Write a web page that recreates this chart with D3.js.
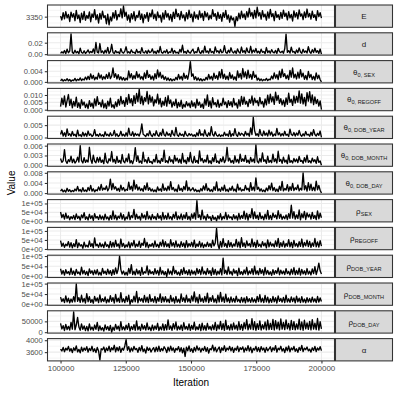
<!DOCTYPE html>
<html>
<head>
<meta charset="utf-8">
<script src="https://cdn.jsdelivr.net/npm/d3@7"></script>
<style>
  body { margin: 0; background: #fff; }
  svg { display: block; font-family: "Liberation Sans", Arial, sans-serif; }
</style>
</head>
<body>
<div id="chart"></div>
<script>
// MCMC trace plot, one row per parameter, free y scales (facet_grid look)

const iterFirst = 100000;
const iterLast = 200000;
const xTicks = [100000, 125000, 150000, 175000, 200000];
const xTickLabels = ['100000', '125000', '150000', '175000', '200000'];

const traceE = [
  3352,3337,3366,3341,3370,3345,3359,3331,3368,3348,
  3362,3334,3375,3342,3357,3327,3364,3339,3371,3336,
  3355,3343,3369,3330,3361,3347,3378,3338,3358,3325,
  3363,3340,3372,3346,3354,3322,3360,3318,3349,3333,
  3366,3344,3374,3337,3359,3350,3381,3345,3392,3351,
  3368,3336,3357,3328,3362,3341,3370,3334,3355,3347,
  3373,3339,3361,3326,3358,3344,3367,3332,3364,3349,
  3377,3342,3360,3335,3369,3346,3356,3329,3365,3340,
  3374,3348,3363,3337,3359,3331,3368,3343,3380,3350,
  3362,3338,3371,3345,3357,3333,3366,3341,3376,3347,
  3360,3330,3369,3344,3358,3339,3373,3346,3363,3335,
  3371,3349,3365,3338,3356,3342,3378,3351,3362,3336,
  3368,3343,3359,3332,3366,3347,3375,3340,3357,3328,
  3353,3337,3345,3312,3350,3334,3364,3341,3372,3346,
  3361,3339,3370,3348,3383,3352,3367,3342,3375,3345,
  3387,3353,3366,3340,3374,3349,3360,3336,3369,3344,
  3379,3350,3362,3334,3371,3347,3358,3339,3367,3343,
  3376,3351,3364,3337,3370,3345,3359,3333,3373,3348,
  3366,3341,3377,3352,3361,3338,3369,3346,3380,3349,
  3363,3340,3372,3347,3358,3335,3374,3350,3366,3344
];
const traceD = [
  0.0012,0.0041,0.0018,0.0063,0.0009,0.0087,0.0025,0.0052,0.0355,0.0031,
  0.0014,0.0069,0.0022,0.0045,0.0008,0.0105,0.0029,0.0016,0.0058,0.0011,
  0.0037,0.0074,0.0019,0.0048,0.0026,0.0092,0.0013,0.0203,0.0034,0.0021,
  0.0185,0.0027,0.0056,0.0010,0.0068,0.0023,0.0117,0.0015,0.0044,0.0172,
  0.0030,0.0012,0.0061,0.0024,0.0039,0.0009,0.0095,0.0033,0.0018,0.0052,
  0.0128,0.0021,0.0043,0.0014,0.0076,0.0028,0.0035,0.0011,0.0083,0.0025,
  0.0047,0.0016,0.0114,0.0031,0.0020,0.0059,0.0013,0.0071,0.0027,0.0038,
  0.0092,0.0019,0.0049,0.0010,0.0066,0.0024,0.0133,0.0032,0.0017,0.0054,
  0.0026,0.0078,0.0012,0.0041,0.0029,0.0102,0.0015,0.0063,0.0021,0.0036,
  0.0011,0.0084,0.0034,0.0155,0.0023,0.0048,0.0014,0.0070,0.0030,0.0019,
  0.0057,0.0088,0.0016,0.0043,0.0027,0.0119,0.0035,0.0013,0.0064,0.0022,
  0.0140,0.0031,0.0054,0.0017,0.0097,0.0028,0.0045,0.0012,0.0126,0.0037,
  0.0060,0.0019,0.0082,0.0025,0.0040,0.0148,0.0033,0.0014,0.0069,0.0027,
  0.0111,0.0040,0.0021,0.0057,0.0013,0.0090,0.0036,0.0018,0.0124,0.0030,
  0.0063,0.0016,0.0107,0.0039,0.0026,0.0137,0.0020,0.0072,0.0034,0.0098,
  0.0024,0.0051,0.0015,0.0086,0.0032,0.0047,0.0011,0.0115,0.0029,0.0058,
  0.0018,0.0079,0.0036,0.0022,0.0065,0.0013,0.0101,0.0041,0.0027,0.0053,
  0.0016,0.0094,0.0350,0.0030,0.0062,0.0019,0.0122,0.0035,0.0048,0.0012,
  0.0073,0.0026,0.0109,0.0038,0.0015,0.0084,0.0031,0.0056,0.0020,0.0131,
  0.0042,0.0017,0.0077,0.0028,0.0104,0.0033,0.0061,0.0014,0.0089,0.0001
];
const traceThetaSex = [
  0.0004,0.0010,0.0003,0.0008,0.0005,0.0012,0.0004,0.0009,0.0002,0.0007,
  0.0005,0.0013,0.0004,0.0010,0.0006,0.0015,0.0005,0.0011,0.0007,0.0018,
  0.0008,0.0021,0.0009,0.0030,0.0012,0.0024,0.0008,0.0018,0.0010,0.0033,
  0.0014,0.0026,0.0009,0.0020,0.0011,0.0028,0.0013,0.0035,0.0012,0.0022,
  0.0052,0.0017,0.0031,0.0011,0.0027,0.0009,0.0019,0.0007,0.0016,0.0006,
  0.0014,0.0008,0.0041,0.0015,0.0031,0.0010,0.0024,0.0012,0.0038,0.0016,
  0.0029,0.0011,0.0020,0.0008,0.0034,0.0013,0.0043,0.0017,0.0027,0.0010,
  0.0022,0.0007,0.0031,0.0012,0.0045,0.0018,0.0036,0.0014,0.0025,0.0009,
  0.0019,0.0006,0.0015,0.0005,0.0012,0.0004,0.0010,0.0006,0.0017,0.0008,
  0.0028,0.0011,0.0021,0.0007,0.0033,0.0013,0.0024,0.0010,0.0036,0.0076,
  0.0021,0.0030,0.0009,0.0019,0.0006,0.0015,0.0005,0.0012,0.0004,0.0010,
  0.0006,0.0017,0.0008,0.0028,0.0011,0.0021,0.0007,0.0033,0.0013,0.0024,
  0.0009,0.0038,0.0015,0.0047,0.0012,0.0029,0.0010,0.0022,0.0008,0.0035,
  0.0013,0.0026,0.0009,0.0019,0.0006,0.0041,0.0016,0.0032,0.0011,0.0050,
  0.0018,0.0037,0.0012,0.0044,0.0015,0.0028,0.0010,0.0039,0.0017,0.0026,
  0.0007,0.0014,0.0005,0.0011,0.0004,0.0009,0.0006,0.0013,0.0005,0.0010,
  0.0008,0.0022,0.0011,0.0034,0.0014,0.0027,0.0009,0.0040,0.0016,0.0048,
  0.0020,0.0031,0.0012,0.0025,0.0009,0.0043,0.0018,0.0052,0.0015,0.0029,
  0.0011,0.0036,0.0014,0.0046,0.0019,0.0033,0.0010,0.0024,0.0008,0.0039,
  0.0016,0.0028,0.0009,0.0021,0.0007,0.0034,0.0012,0.0025,0.0008,0.0000
];
const traceThetaRegoff = [
  0.0021,0.0078,0.0035,0.0094,0.0018,0.0062,0.0103,0.0029,0.0071,0.0012,
  0.0056,0.0024,0.0085,0.0016,0.0047,0.0009,0.0068,0.0031,0.0052,0.0014,
  0.0039,0.0008,0.0061,0.0022,0.0045,0.0011,0.0074,0.0027,0.0089,0.0036,
  0.0050,0.0019,0.0066,0.0013,0.0042,0.0007,0.0058,0.0025,0.0079,0.0017,
  0.0034,0.0010,0.0053,0.0021,0.0070,0.0032,0.0091,0.0040,0.0063,0.0023,
  0.0082,0.0037,0.0104,0.0046,0.0075,0.0028,0.0096,0.0043,0.0110,0.0055,
  0.0138,0.0042,0.0092,0.0033,0.0081,0.0057,0.0124,0.0040,0.0098,0.0051,
  0.0087,0.0026,0.0069,0.0046,0.0105,0.0038,0.0076,0.0019,0.0058,0.0030,
  0.0083,0.0024,0.0095,0.0041,0.0066,0.0017,0.0053,0.0028,0.0072,0.0013,
  0.0049,0.0021,0.0064,0.0010,0.0037,0.0018,0.0055,0.0026,0.0044,0.0015,
  0.0060,0.0023,0.0047,0.0012,0.0071,0.0030,0.0052,0.0016,0.0039,0.0009,
  0.0073,0.0032,0.0101,0.0023,0.0059,0.0012,0.0081,0.0034,0.0048,0.0020,
  0.0067,0.0016,0.0043,0.0027,0.0078,0.0035,0.0052,0.0014,0.0061,0.0029,
  0.0054,0.0019,0.0077,0.0031,0.0045,0.0011,0.0068,0.0025,0.0090,0.0036,
  0.0086,0.0038,0.0057,0.0021,0.0070,0.0044,0.0093,0.0031,0.0079,0.0048,
  0.0062,0.0027,0.0084,0.0040,0.0056,0.0018,0.0073,0.0033,0.0099,0.0042,
  0.0106,0.0054,0.0088,0.0036,0.0119,0.0062,0.0097,0.0043,0.0075,0.0033,
  0.0065,0.0022,0.0080,0.0037,0.0112,0.0050,0.0071,0.0029,0.0094,0.0045,
  0.0090,0.0051,0.0128,0.0045,0.0108,0.0039,0.0084,0.0027,0.0116,0.0058,
  0.0123,0.0047,0.0101,0.0035,0.0087,0.0041,0.0069,0.0024,0.0060,0.0000
];
const traceThetaDobYear = [
  0.0012,0.0028,0.0006,0.0019,0.0004,0.0035,0.0009,0.0015,0.0005,0.0024,
  0.0008,0.0013,0.0003,0.0030,0.0007,0.0011,0.0004,0.0021,0.0006,0.0017,
  0.0005,0.0026,0.0009,0.0014,0.0004,0.0010,0.0032,0.0007,0.0012,0.0005,
  0.0016,0.0006,0.0011,0.0004,0.0023,0.0008,0.0013,0.0005,0.0019,0.0007,
  0.0010,0.0029,0.0006,0.0015,0.0004,0.0009,0.0025,0.0007,0.0013,0.0005,
  0.0019,0.0006,0.0038,0.0011,0.0008,0.0023,0.0005,0.0017,0.0009,0.0014,
  0.0006,0.0021,0.0055,0.0013,0.0009,0.0004,0.0016,0.0007,0.0027,0.0010,
  0.0004,0.0016,0.0007,0.0027,0.0010,0.0005,0.0020,0.0008,0.0034,0.0011,
  0.0006,0.0022,0.0009,0.0015,0.0004,0.0029,0.0012,0.0007,0.0041,0.0010,
  0.0005,0.0018,0.0008,0.0013,0.0004,0.0025,0.0010,0.0006,0.0016,0.0009,
  0.0014,0.0005,0.0011,0.0004,0.0019,0.0007,0.0032,0.0009,0.0015,0.0006,
  0.0031,0.0011,0.0005,0.0019,0.0007,0.0044,0.0012,0.0006,0.0023,0.0009,
  0.0005,0.0013,0.0004,0.0010,0.0006,0.0021,0.0008,0.0014,0.0005,0.0028,
  0.0004,0.0015,0.0008,0.0036,0.0011,0.0005,0.0021,0.0009,0.0017,0.0013,
  0.0006,0.0024,0.0010,0.0017,0.0005,0.0039,0.0012,0.0082,0.0028,0.0009,
  0.0015,0.0005,0.0033,0.0011,0.0007,0.0026,0.0009,0.0018,0.0006,0.0030,
  0.0010,0.0022,0.0005,0.0014,0.0008,0.0037,0.0011,0.0019,0.0006,0.0016,
  0.0007,0.0025,0.0009,0.0013,0.0004,0.0034,0.0012,0.0008,0.0020,0.0006,
  0.0018,0.0009,0.0029,0.0011,0.0005,0.0015,0.0007,0.0024,0.0010,0.0013,
  0.0005,0.0021,0.0008,0.0032,0.0012,0.0006,0.0017,0.0009,0.0026,0.0000
];
const traceThetaDobMonth = [
  0.0021,0.0009,0.0014,0.0048,0.0013,0.0006,0.0017,0.0011,0.0028,0.0008,
  0.0019,0.0007,0.0012,0.0025,0.0010,0.0060,0.0014,0.0007,0.0023,0.0009,
  0.0016,0.0010,0.0055,0.0019,0.0006,0.0031,0.0012,0.0008,0.0024,0.0010,
  0.0025,0.0009,0.0016,0.0005,0.0037,0.0011,0.0007,0.0020,0.0013,0.0042,
  0.0010,0.0018,0.0006,0.0027,0.0009,0.0015,0.0006,0.0033,0.0012,0.0008,
  0.0022,0.0011,0.0035,0.0007,0.0014,0.0005,0.0019,0.0054,0.0012,0.0029,
  0.0008,0.0013,0.0006,0.0040,0.0011,0.0017,0.0007,0.0024,0.0009,0.0012,
  0.0005,0.0018,0.0010,0.0033,0.0008,0.0015,0.0006,0.0021,0.0012,0.0046,
  0.0009,0.0014,0.0007,0.0026,0.0011,0.0017,0.0006,0.0030,0.0013,0.0022,
  0.0008,0.0019,0.0006,0.0036,0.0010,0.0016,0.0005,0.0024,0.0011,0.0039,
  0.0012,0.0007,0.0027,0.0009,0.0015,0.0006,0.0044,0.0013,0.0021,0.0008,
  0.0017,0.0010,0.0031,0.0007,0.0014,0.0005,0.0023,0.0011,0.0035,0.0009,
  0.0013,0.0006,0.0020,0.0011,0.0026,0.0008,0.0016,0.0055,0.0013,0.0022,
  0.0008,0.0015,0.0006,0.0029,0.0010,0.0018,0.0007,0.0034,0.0012,0.0020,
  0.0012,0.0030,0.0009,0.0016,0.0006,0.0024,0.0011,0.0019,0.0008,0.0062,
  0.0013,0.0007,0.0021,0.0010,0.0038,0.0012,0.0017,0.0006,0.0028,0.0009,
  0.0015,0.0008,0.0034,0.0011,0.0020,0.0007,0.0043,0.0012,0.0018,0.0006,
  0.0025,0.0010,0.0016,0.0005,0.0032,0.0009,0.0014,0.0007,0.0021,0.0011,
  0.0019,0.0008,0.0027,0.0012,0.0015,0.0006,0.0023,0.0010,0.0031,0.0009,
  0.0014,0.0007,0.0022,0.0011,0.0017,0.0006,0.0026,0.0009,0.0013,0.0000
];
const traceThetaDobDay = [
  0.0008,0.0015,0.0005,0.0011,0.0004,0.0019,0.0007,0.0013,0.0005,0.0010,
  0.0006,0.0016,0.0009,0.0026,0.0008,0.0014,0.0005,0.0021,0.0007,0.0012,
  0.0006,0.0022,0.0010,0.0030,0.0008,0.0017,0.0005,0.0013,0.0009,0.0024,
  0.0011,0.0034,0.0012,0.0020,0.0014,0.0028,0.0009,0.0019,0.0055,0.0013,
  0.0038,0.0016,0.0025,0.0010,0.0019,0.0007,0.0031,0.0012,0.0022,0.0008,
  0.0015,0.0011,0.0043,0.0014,0.0027,0.0009,0.0051,0.0016,0.0033,0.0012,
  0.0024,0.0010,0.0018,0.0007,0.0029,0.0013,0.0040,0.0011,0.0021,0.0008,
  0.0016,0.0006,0.0013,0.0005,0.0024,0.0010,0.0017,0.0007,0.0036,0.0011,
  0.0020,0.0009,0.0027,0.0012,0.0045,0.0014,0.0022,0.0008,0.0016,0.0006,
  0.0032,0.0011,0.0019,0.0007,0.0026,0.0013,0.0048,0.0010,0.0023,0.0009,
  0.0014,0.0021,0.0008,0.0015,0.0006,0.0011,0.0005,0.0018,0.0009,0.0028,
  0.0012,0.0037,0.0010,0.0019,0.0007,0.0014,0.0006,0.0025,0.0011,0.0044,
  0.0009,0.0017,0.0007,0.0023,0.0010,0.0031,0.0008,0.0015,0.0006,0.0020,
  0.0011,0.0027,0.0009,0.0016,0.0005,0.0035,0.0012,0.0021,0.0008,0.0014,
  0.0010,0.0030,0.0013,0.0019,0.0007,0.0041,0.0011,0.0024,0.0009,0.0060,
  0.0015,0.0023,0.0008,0.0017,0.0006,0.0012,0.0005,0.0020,0.0009,0.0029,
  0.0013,0.0039,0.0010,0.0022,0.0007,0.0016,0.0006,0.0027,0.0011,0.0046,
  0.0009,0.0018,0.0012,0.0033,0.0008,0.0025,0.0011,0.0038,0.0010,0.0021,
  0.0014,0.0032,0.0009,0.0019,0.0012,0.0080,0.0013,0.0029,0.0008,0.0041,
  0.0012,0.0035,0.0010,0.0023,0.0009,0.0047,0.0013,0.0030,0.0011,0.0000
];
const traceRhoSex = [
  52000,21000,38000,12000,45000,17000,30000,8000,26000,14000,
  33000,9000,41000,16000,28000,6000,36000,19000,48000,11000,
  25000,7000,39000,15000,31000,5000,43000,18000,27000,10000,
  35000,12000,29000,8000,40000,14000,24000,6000,32000,11000,
  58000,13000,34000,8000,29000,17000,46000,12000,37000,6000,
  24000,14000,51000,9000,32000,20000,67000,11000,40000,15000,
  28000,7000,44000,18000,35000,10000,55000,13000,30000,8000,
  38000,15000,27000,9000,42000,16000,31000,7000,49000,12000,
  33000,11000,45000,14000,26000,8000,39000,17000,53000,10000,
  30000,13000,41000,9000,36000,15000,48000,11000,28000,7000,
  41000,16000,47000,12000,116000,21000,36000,9000,62000,14000,
  29000,6000,38000,17000,26000,4000,33000,11000,22000,2000,
  31000,13000,42000,8000,27000,15000,49000,10000,35000,18000,
  25000,9000,37000,14000,30000,7000,44000,12000,33000,16000,
  57000,12000,44000,7000,38000,20000,71000,14000,52000,16000,
  34000,10000,48000,15000,29000,8000,40000,13000,61000,11000,
  33000,9000,46000,22000,35000,13000,59000,17000,40000,11000,
  28000,14000,36000,10000,42000,16000,90000,18000,54000,12000,
  36000,15000,63000,8000,42000,19000,55000,10000,47000,24000,
  39000,12000,50000,16000,33000,9000,58000,14000,45000,20000
];
const traceRhoRegoff = [
  46000,15000,32000,9000,27000,18000,41000,11000,35000,6000,
  29000,13000,52000,8000,33000,16000,24000,4000,38000,12000,
  21000,10000,44000,14000,30000,7000,61000,17000,26000,9000,
  34000,12000,27000,8000,39000,15000,23000,6000,42000,11000,
  36000,11000,48000,15000,28000,5000,55000,13000,31000,8000,
  23000,12000,39000,6000,34000,17000,47000,10000,27000,14000,
  43000,9000,32000,19000,58000,11000,37000,7000,25000,15000,
  31000,10000,45000,13000,26000,8000,38000,16000,50000,12000,
  40000,13000,29000,8000,51000,16000,35000,10000,45000,12000,
  27000,9000,41000,14000,33000,7000,46000,11000,30000,15000,
  37000,12000,49000,9000,28000,14000,42000,10000,34000,8000,
  26000,13000,38000,14000,30000,9000,49000,17000,33000,114000,
  25000,1500,42000,11000,57000,15000,31000,8000,46000,13000,
  36000,10000,28000,16000,53000,12000,39000,7000,62000,14000,
  34000,9000,44000,18000,30000,11000,56000,13000,37000,8000,
  48000,15000,27000,10000,41000,17000,33000,6000,50000,12000,
  38000,16000,29000,11000,45000,14000,59000,9000,35000,13000,
  43000,10000,31000,15000,52000,12000,37000,8000,47000,16000,
  30000,11000,40000,14000,55000,10000,36000,17000,49000,13000,
  42000,9000,33000,15000,58000,12000,39000,10000,46000,16000
];
const traceRhoDobYear = [
  38000,12000,29000,7000,33000,15000,24000,9000,41000,11000,
  27000,6000,35000,14000,22000,8000,46000,13000,30000,10000,
  25000,5000,37000,16000,28000,9000,31000,12000,34000,8000,
  21000,7000,40000,15000,26000,10000,36000,13000,29000,6000,
  33000,11000,42000,14000,37000,99000,34000,12000,27000,8000,
  21000,7000,40000,15000,58000,10000,26000,8000,36000,13000,
  29000,6000,44000,11000,23000,17000,52000,9000,32000,14000,
  24000,10000,38000,13000,30000,7000,45000,12000,28000,9000,
  24000,300,37000,12000,27000,8000,49000,15000,30000,10000,
  22000,6000,35000,11000,43000,14000,28000,9000,33000,7000,
  31000,12000,26000,8000,40000,15000,34000,10000,47000,13000,
  26000,9000,39000,14000,29000,6000,42000,11000,35000,8000,
  26000,12000,39000,8000,90000,15000,31000,10000,47000,13000,
  25000,7000,36000,16000,29000,5000,41000,11000,24000,9000,
  32000,13000,45000,8000,27000,14000,38000,10000,51000,12000,
  28000,9000,40000,15000,33000,7000,44000,12000,30000,10000,
  23000,6000,34000,11000,29000,15000,42000,9000,31000,13000,
  27000,10000,38000,14000,25000,8000,36000,12000,43000,9000,
  30000,11000,41000,7000,35000,13000,28000,9000,39000,12000,
  26000,8000,37000,14000,48000,10000,33000,65000,28000,12000
];
const traceRhoDobMonth = [
  35000,14000,27000,9000,41000,12000,30000,8000,26000,11000,
  37000,13000,98000,15000,33000,10000,44000,12000,29000,7000,
  52000,13000,37000,10000,24000,6000,39000,16000,31000,9000,
  46000,12000,28000,14000,36000,8000,25000,11000,42000,15000,
  33000,7000,48000,13000,30000,10000,57000,12000,27000,9000,
  38000,14000,45000,800,23000,11000,40000,13000,62000,8000,
  34000,16000,29000,10000,43000,12000,35000,9000,47000,14000,
  28000,11000,39000,8000,32000,15000,51000,10000,36000,13000,
  37000,12000,26000,9000,43000,14000,31000,7000,39000,11000,
  25000,8000,50000,15000,32000,10000,44000,13000,28000,9000,
  41000,16000,60000,12000,35000,7000,47000,14000,30000,10000,
  38000,13000,54000,9000,33000,15000,42000,11000,27000,8000,
  45000,12000,58000,14000,36000,10000,49000,13000,31000,9000,
  36000,12000,29000,10000,40000,14000,25000,9000,34000,11000,
  31000,8000,37000,13000,28000,10000,33000,12000,26000,9000,
  39000,14000,47000,11000,30000,9000,43000,12000,35000,8000,
  28000,10000,38000,13000,32000,7000,41000,15000,29000,11000,
  34000,9000,45000,12000,27000,10000,36000,14000,31000,8000,
  40000,13000,30000,9000,37000,11000,26000,8000,33000,12000,
  29000,10000,35000,13000,27000,9000,38000,11000,31000,14000
];
const traceRhoDobDay = [
  41000,15000,30000,8000,36000,12000,27000,10000,45000,14000,
  94000,11000,33000,68000,24000,9000,38000,13000,29000,7000,
  27000,6000,38000,11000,24000,9000,33000,13000,45000,7000,
  29000,10000,21000,5000,34000,12000,26000,8000,31000,500,
  23000,9000,36000,14000,28000,7000,48000,11000,25000,10000,
  32000,13000,40000,6000,27000,12000,35000,9000,52000,11000,
  26000,8000,37000,14000,30000,10000,43000,12000,24000,7000,
  33000,10000,29000,13000,41000,8000,25000,11000,38000,9000,
  35000,11000,57000,13000,29000,9000,39000,15000,47000,10000,
  28000,12000,33000,8000,44000,14000,27000,11000,38000,9000,
  31000,13000,46000,10000,25000,12000,36000,7000,42000,11000,
  30000,9000,41000,14000,27000,10000,34000,12000,45000,8000,
  34000,15000,50000,12000,39000,9000,55000,13000,30000,10000,
  37000,11000,43000,14000,32000,10000,48000,12000,36000,9000,
  44000,16000,58000,11000,37000,14000,62000,12000,48000,9000,
  39000,13000,52000,10000,35000,15000,47000,11000,56000,12000,
  41000,13000,59000,10000,53000,15000,46000,11000,61000,14000,
  45000,12000,57000,16000,40000,10000,54000,13000,49000,11000,
  38000,14000,60000,12000,47000,9000,55000,15000,43000,13000,
  50000,11000,58000,14000,42000,12000,63000,10000,48000,15000
];
const traceAlpha = [
  3702,3641,3758,3615,3733,3668,3790,3632,3721,3587,
  3745,3654,3812,3609,3694,3578,3766,3627,3738,3662,
  3781,3604,3727,3651,3796,3619,3712,3584,3755,3640,
  3340,3715,3681,3772,3598,3739,3650,3803,3621,3748,
  3673,3829,3611,3760,3646,3785,3593,3731,3664,3807,
  4020,3662,3784,3606,3741,3637,3795,3683,3726,3592,
  3758,3645,3817,3622,3707,3569,3771,3658,3736,3603,
  3690,3751,3612,3764,3631,3798,3625,3725,3648,3781,
  3709,3587,3763,3639,3801,3654,3744,3596,3728,3670,
  3786,3617,3752,3580,3734,3455,3769,3643,3811,3628,
  3716,3589,3760,3634,3808,3667,3743,3601,3729,3655,
  3787,3624,3752,3571,3719,3676,3835,3640,3763,3611,
  3699,3772,3585,3746,3659,3813,3628,3737,3672,3795,
  3643,3758,3597,3731,3663,3802,3618,3747,3686,3776,
  3605,3741,3652,3819,3634,3767,3581,3724,3669,3791,
  3628,3754,3609,3786,3671,3738,3593,3759,3645,3710,
  3778,3620,3749,3664,3816,3602,3735,3681,3797,3636,
  3722,3588,3765,3647,3804,3613,3742,3675,3789,3629,
  3711,3594,3757,3660,3823,3617,3736,3683,3770,3642,
  3701,3599,3746,3657,3794,3621,3739,3668,3783,3650
];

// y breaks per row, as printed on the axis
const ticksE = [3350];
const ticksD = [0, 0.02];
const ticksThetaSex = [0, 0.004];
const ticksThetaRegoff = [0, 0.005, 0.01];
const ticksThetaDobYear = [0, 0.005];
const ticksThetaDobMonth = [0, 0.003, 0.006];
const ticksThetaDobDay = [0, 0.004, 0.008];
const ticksRho = [0, 50000, 100000];
const ticksRhoDay = [0, 50000];
const ticksAlpha = [3600, 4000];

const labelsE = ['3350'];
const labelsD = ['0.00', '0.02'];
const labelsThetaSex = ['0.000', '0.004'];
const labelsThetaRegoff = ['0.000', '0.005', '0.010'];
const labelsThetaDobYear = ['0.000', '0.005'];
const labelsThetaDobMonth = ['0.000', '0.003', '0.006'];
const labelsThetaDobDay = ['0.000', '0.004', '0.008'];
const labelsRho = ['0e+00', '5e+04', '1e+05'];
const labelsRhoDay = ['0', '50000'];
const labelsAlpha = ['3600', '4000'];

const panels = [
  { sym: 'E', sub: null, values: traceE, ticks: ticksE, labels: labelsE, step: 50 },
  { sym: 'd', sub: null, values: traceD, ticks: ticksD, labels: labelsD, step: 0.02 },
  { sym: 'θ', sub: '0, SEX', values: traceThetaSex, ticks: ticksThetaSex, labels: labelsThetaSex, step: 0.004 },
  { sym: 'θ', sub: '0, REGOFF', values: traceThetaRegoff, ticks: ticksThetaRegoff, labels: labelsThetaRegoff, step: 0.005 },
  { sym: 'θ', sub: '0, DOB_YEAR', values: traceThetaDobYear, ticks: ticksThetaDobYear, labels: labelsThetaDobYear, step: 0.005 },
  { sym: 'θ', sub: '0, DOB_MONTH', values: traceThetaDobMonth, ticks: ticksThetaDobMonth, labels: labelsThetaDobMonth, step: 0.003 },
  { sym: 'θ', sub: '0, DOB_DAY', values: traceThetaDobDay, ticks: ticksThetaDobDay, labels: labelsThetaDobDay, step: 0.004 },
  { sym: 'ρ', sub: 'SEX', values: traceRhoSex, ticks: ticksRho, labels: labelsRho, step: 50000 },
  { sym: 'ρ', sub: 'REGOFF', values: traceRhoRegoff, ticks: ticksRho, labels: labelsRho, step: 50000 },
  { sym: 'ρ', sub: 'DOB_YEAR', values: traceRhoDobYear, ticks: ticksRho, labels: labelsRho, step: 50000 },
  { sym: 'ρ', sub: 'DOB_MONTH', values: traceRhoDobMonth, ticks: ticksRho, labels: labelsRho, step: 50000 },
  { sym: 'ρ', sub: 'DOB_DAY', values: traceRhoDobDay, ticks: ticksRhoDay, labels: labelsRhoDay, step: 50000 },
  { sym: 'α', sub: null, values: traceAlpha, ticks: ticksAlpha, labels: labelsAlpha, step: 400 },
];

const width = 399;
const height = 394;
const plotLeft = 47.5;
const plotRight = 334.5;
const stripLeft = 335.5;
const stripRight = 392.5;
const top0 = 5;
const panelH = 22.3;
const gap = 5.5;
const tickFont = 7.6;

const svg = d3.select('#chart').append('svg')
  .attr('width', width)
  .attr('height', height)
  .attr('viewBox', `0 0 ${width} ${height}`);

// ggplot-style expanded x scale (5% each side)
const xSpan = iterLast - iterFirst;
const x = d3.scaleLinear()
  .domain([iterFirst - xSpan * 0.05, iterLast + xSpan * 0.05])
  .range([plotLeft, plotRight]);
const xMinor = xTicks.slice(1).map((t, i) => (t + xTicks[i]) / 2);

panels.forEach((p, i) => {
  const y0 = top0 + i * (panelH + gap);
  const [lo, hi] = d3.extent(p.values);
  const pad = (hi - lo) * 0.05;
  const y = d3.scaleLinear().domain([lo - pad, hi + pad]).range([y0 + panelH, y0]);
  const n = p.values.length;
  const iter = (k) => iterFirst + (k * xSpan) / (n - 1);

  const g = svg.append('g');
  g.append('rect')
    .attr('x', plotLeft).attr('y', y0)
    .attr('width', plotRight - plotLeft).attr('height', panelH)
    .attr('fill', '#fff');

  // minor y grid: midpoints of breaks, extended one step each side
  const ext = [p.ticks[0] - p.step, ...p.ticks, p.ticks[p.ticks.length - 1] + p.step];
  const yMinor = ext.slice(1).map((t, k) => (t + ext[k]) / 2)
    .filter((v) => v >= y.domain()[0] && v <= y.domain()[1]);

  g.selectAll('line.ymin').data(yMinor).join('line')
    .attr('x1', plotLeft).attr('x2', plotRight)
    .attr('y1', (d) => y(d)).attr('y2', (d) => y(d))
    .attr('stroke', '#ebebeb').attr('stroke-width', 0.55);
  g.selectAll('line.xmin').data(xMinor).join('line')
    .attr('x1', (d) => x(d)).attr('x2', (d) => x(d))
    .attr('y1', y0).attr('y2', y0 + panelH)
    .attr('stroke', '#ebebeb').attr('stroke-width', 0.55);
  g.selectAll('line.ymaj').data(p.ticks).join('line')
    .attr('x1', plotLeft).attr('x2', plotRight)
    .attr('y1', (d) => y(d)).attr('y2', (d) => y(d))
    .attr('stroke', '#ebebeb').attr('stroke-width', 1.07);
  g.selectAll('line.xmaj').data(xTicks).join('line')
    .attr('x1', (d) => x(d)).attr('x2', (d) => x(d))
    .attr('y1', y0).attr('y2', y0 + panelH)
    .attr('stroke', '#ebebeb').attr('stroke-width', 1.07);

  const line = d3.line().x((d, k) => x(iter(k))).y((d) => y(d));
  g.append('path')
    .datum(p.values)
    .attr('d', line)
    .attr('fill', 'none')
    .attr('stroke', '#000')
    .attr('stroke-width', 1.35)
    .attr('stroke-linejoin', 'round');

  g.append('rect')
    .attr('x', plotLeft).attr('y', y0)
    .attr('width', plotRight - plotLeft).attr('height', panelH)
    .attr('fill', 'none').attr('stroke', '#333333').attr('stroke-width', 1.07);

  // y axis
  const ax = svg.append('g')
    .attr('transform', `translate(${plotLeft},0)`)
    .call(d3.axisLeft(y).tickValues(p.ticks).tickSize(2.7).tickPadding(2)
      .tickFormat((d, k) => p.labels[k]));
  ax.select('.domain').remove();
  ax.selectAll('.tick line').attr('stroke', '#333333').attr('stroke-width', 1.07);
  ax.selectAll('.tick text').attr('fill', '#4d4d4d').attr('font-size', tickFont)
    .attr('font-family', '"Liberation Sans", Arial, sans-serif');

  // strip
  svg.append('rect')
    .attr('x', stripLeft).attr('y', y0)
    .attr('width', stripRight - stripLeft).attr('height', panelH)
    .attr('fill', '#d9d9d9').attr('stroke', '#333333').attr('stroke-width', 1.07);
  const t = svg.append('text')
    .attr('x', (stripLeft + stripRight) / 2)
    .attr('y', y0 + panelH / 2 + 2.8)
    .attr('text-anchor', 'middle')
    .attr('fill', '#1a1a1a')
    .attr('font-size', 8);
  t.append('tspan').text(p.sym);
  if (p.sub) {
    t.append('tspan').attr('font-size', 5.6).attr('dy', 2).text(p.sub);
  }
});

// x axis at the bottom row
const yBottom = top0 + panels.length * panelH + (panels.length - 1) * gap;
const xa = svg.append('g')
  .attr('transform', `translate(0,${yBottom})`)
  .call(d3.axisBottom(x).tickValues(xTicks).tickSize(2.7).tickPadding(2)
    .tickFormat((d, k) => xTickLabels[k]));
xa.select('.domain').remove();
xa.selectAll('.tick line').attr('stroke', '#333333').attr('stroke-width', 1.07);
xa.selectAll('.tick text').attr('fill', '#4d4d4d').attr('font-size', 8)
  .attr('font-family', '"Liberation Sans", Arial, sans-serif');

svg.append('text')
  .attr('x', (plotLeft + plotRight) / 2)
  .attr('y', 386)
  .attr('text-anchor', 'middle')
  .attr('font-size', 10)
  .attr('fill', '#000')
  .text('Iteration');

svg.append('text')
  .attr('transform', `translate(15,${(top0 + yBottom) / 2}) rotate(-90)`)
  .attr('text-anchor', 'middle')
  .attr('font-size', 10)
  .attr('fill', '#000')
  .text('Value');
</script>
</body>
</html>
